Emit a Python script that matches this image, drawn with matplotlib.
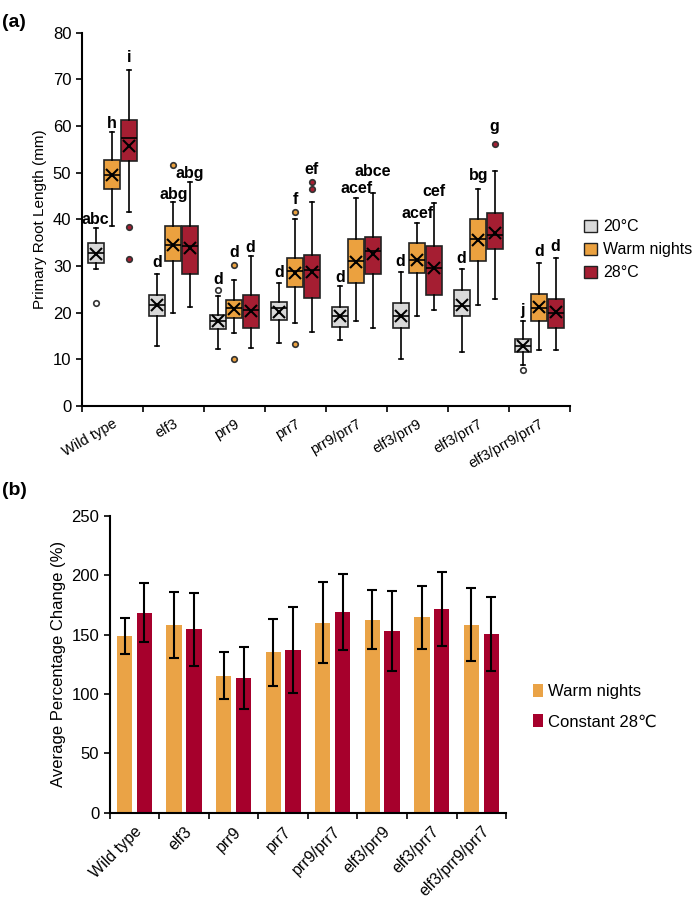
import matplotlib
matplotlib.use("Agg")
import matplotlib.pyplot as plt
import numpy as np
from matplotlib.patches import Patch

plt.rcParams['font.family'] = ['Liberation Sans', 'DejaVu Sans']

genotypes = ['Wild type', 'elf3', 'prr9', 'prr7', 'prr9/prr7',
             'elf3/prr9', 'elf3/prr7', 'elf3/prr9/prr7']
conditions = ['20°C', 'Warm nights', '28°C']

# box stats: (whislo, q1, med, q3, whishi, mean)
box_20 = [(29.3, 30.6, 32.8, 34.9, 38.1, 32.6),
          (12.9, 19.2, 21.6, 23.8, 28.3, 21.6),
          (12.2, 16.4, 18.1, 19.5, 23.5, 18.1),
          (13.4, 18.5, 21.0, 22.2, 26.3, 20.2),
          (14.2, 17.0, 19.2, 21.3, 25.8, 19.2),
          (10.1, 16.7, 19.2, 22.0, 28.8, 19.3),
          (11.5, 19.2, 21.5, 24.9, 29.3, 21.6),
          (8.7, 11.5, 12.9, 14.3, 18.1, 12.9)]
box_warm = [(38.6, 46.6, 49.4, 52.8, 58.7, 49.4),
            (19.9, 31.0, 34.4, 38.5, 43.8, 34.4),
            (15.6, 18.8, 21.0, 22.7, 27.0, 20.7),
            (17.7, 25.5, 29.0, 31.7, 40.1, 28.5),
            (18.3, 26.3, 31.0, 35.8, 44.6, 30.8),
            (19.3, 28.5, 31.3, 34.9, 39.3, 31.3),
            (21.7, 31.1, 35.8, 40.1, 46.6, 35.6),
            (12.0, 18.3, 21.0, 24.0, 30.6, 21.2)]
box_28 = [(41.5, 52.4, 57.4, 61.4, 72.1, 55.8),
          (21.3, 28.3, 34.3, 38.5, 48.1, 33.9),
          (12.5, 16.7, 20.6, 23.8, 32.2, 20.4),
          (15.8, 23.1, 29.2, 32.3, 43.8, 28.8),
          (16.7, 28.3, 33.3, 36.3, 45.6, 32.6),
          (20.6, 23.8, 29.5, 34.3, 43.6, 29.5),
          (23.0, 33.6, 36.7, 41.3, 50.4, 37.1),
          (11.9, 16.7, 20.0, 22.9, 31.7, 20.2)]
fliers_20 = [[22.0], [], [24.9], [], [], [], [], [7.6]]
fliers_warm = [[], [51.7], [30.1, 10.1], [41.6, 13.2], [], [], [], []]
fliers_28 = [[38.3, 31.5], [], [], [48.1, 46.5], [], [], [56.2], []]
letters_20 = ['abc', 'd', 'd', 'd', 'd', 'd', 'd', 'j']
letters_warm = ['h', 'abg', 'd', 'f', 'acef', 'acef', 'bg', 'd']
letters_28 = ['i', 'abg', 'd', 'ef', 'abce', 'cef', 'g', 'd']
# height of each letter group (mm)
lab_y_20 = [39.9, 30.8, 27.0, 28.5, 27.6, 31.0, 31.6, 20.4]
lab_y_warm = [60.6, 45.4, 32.8, 44.3, 46.6, 41.2, 49.3, 33.0]
lab_y_28 = [74.8, 49.9, 34.0, 50.7, 50.2, 46.0, 60.0, 34.2]

# panel b
pct_warm = [149, 158, 115.5, 135, 160, 162.5, 164.5, 158.5]
err_warm = [15, 28, 20, 28, 34, 25, 26.5, 31]
pct_28 = [168.5, 154.5, 113.5, 137, 169, 153, 171.5, 150.5]
err_28 = [25, 31, 26.5, 36, 32, 34, 31, 31]

c_gray = '#D9D9D9'
c_orange = '#EBA13F'
c_red = '#A51E32'
c_bar_orange = '#EAA346'
c_bar_red = '#A6002C'

fig = plt.figure(figsize=(6.99, 9.10), dpi=100)

## panel (a) ##
ax = fig.add_axes([0.117, 0.554, 0.698, 0.41])
x = np.arange(len(genotypes))
offs = [-0.27, 0.0, 0.27]
sets = [(box_20, fliers_20, letters_20, lab_y_20, c_gray),
        (box_warm, fliers_warm, letters_warm, lab_y_warm, c_orange),
        (box_28, fliers_28, letters_28, lab_y_28, c_red)]
for k, (boxes, fl, lets, laby, col) in enumerate(sets):
    stats = []
    for b, f in zip(boxes, fl):
        stats.append(dict(whislo=b[0], q1=b[1], med=b[2], q3=b[3],
                          whishi=b[4], mean=b[5], fliers=f))
    ax.bxp(stats, positions=x + offs[k], widths=0.26, patch_artist=True,
           showmeans=True, showcaps=True,
           boxprops=dict(facecolor=col, edgecolor='#222222', linewidth=1.2),
           medianprops=dict(color='black', linewidth=1.2),
           whiskerprops=dict(color='black', linewidth=1.2),
           capprops=dict(color='black', linewidth=1.2),
           capwidths=0.07,
           meanprops=dict(marker='x', markeredgecolor='black', markersize=8,
                          markeredgewidth=1.5),
           flierprops=dict(marker='o', markerfacecolor=col if k else 'white',
                           markeredgecolor='#333333', markersize=4,
                           markeredgewidth=1.2))
    for i in range(len(boxes)):
        ax.text(x[i] + offs[k], laby[i], lets[i], ha='center', va='center',
                fontsize=11.5, fontweight='bold')

ax.set_xlim(-0.5, len(genotypes) - 0.5)
ax.set_ylim(0, 80)
ax.set_yticks(np.arange(0, 81, 10))
ax.set_xticks(x)
ax.set_xticklabels(genotypes, rotation=30, ha='right', rotation_mode='anchor',
                   fontsize=10.5)
ax.set_xticks(np.arange(-0.5, len(genotypes), 1), minor=True)
ax.tick_params(axis='x', which='major', length=0, pad=8)
ax.tick_params(axis='x', which='minor', length=4, width=1.2, direction='out')
ax.tick_params(axis='y', length=4, width=1.2, labelsize=12)
ax.set_ylabel('Primary Root Length (mm)', fontsize=11)
for s in ['top', 'right']:
    ax.spines[s].set_visible(False)
for s in ['left', 'bottom']:
    ax.spines[s].set_linewidth(1.5)
handles = [Patch(facecolor=c, edgecolor='#222222', label=l)
           for c, l in zip([c_gray, c_orange, c_red], conditions)]
ax.legend(handles=handles, loc='center left', bbox_to_anchor=(1.0, 0.418),
          frameon=False, fontsize=11.5, handlelength=0.8, handleheight=0.8,
          handletextpad=0.4, labelspacing=0.5)
fig.text(0.003, 0.985, '(a)', fontsize=14, fontweight='bold', va='top')

## panel (b) ##
ax2 = fig.add_axes([0.157, 0.107, 0.567, 0.326])
w = 0.31
ax2.bar(x - 0.2, pct_warm, w, color=c_bar_orange, label='Warm nights')
ax2.bar(x + 0.2, pct_28, w, color=c_bar_red, label='Constant 28\u2103')
ax2.errorbar(x - 0.2, pct_warm, yerr=err_warm, fmt='none', ecolor='black',
             elinewidth=1.5, capsize=3.5, capthick=1.5)
ax2.errorbar(x + 0.2, pct_28, yerr=err_28, fmt='none', ecolor='black',
             elinewidth=1.5, capsize=3.5, capthick=1.5)
ax2.set_xlim(-0.5, len(genotypes) - 0.5)
ax2.set_ylim(0, 250)
ax2.set_yticks(np.arange(0, 251, 50))
ax2.set_xticks(x)
ax2.set_xticklabels(genotypes, rotation=45, ha='right', rotation_mode='anchor',
                    fontsize=11.5)
ax2.set_xticks(np.arange(-0.5, len(genotypes), 1), minor=True)
ax2.tick_params(axis='x', which='major', length=0, pad=8)
ax2.tick_params(axis='x', which='minor', length=4, width=1.2, direction='out')
ax2.tick_params(axis='y', length=4, width=1.2, labelsize=12)
ax2.set_ylabel('Average Percentage Change (%)', fontsize=12)
for s in ['top', 'right']:
    ax2.spines[s].set_visible(False)
for s in ['left', 'bottom']:
    ax2.spines[s].set_linewidth(1.5)
ax2.legend(loc='center left', bbox_to_anchor=(1.03, 0.357), frameon=False,
           fontsize=12, handlelength=0.6, handleheight=0.8, handletextpad=0.3,
           labelspacing=0.9)
fig.text(0.003, 0.47, '(b)', fontsize=14, fontweight='bold', va='top')

fig.savefig('out.png', dpi=100)
